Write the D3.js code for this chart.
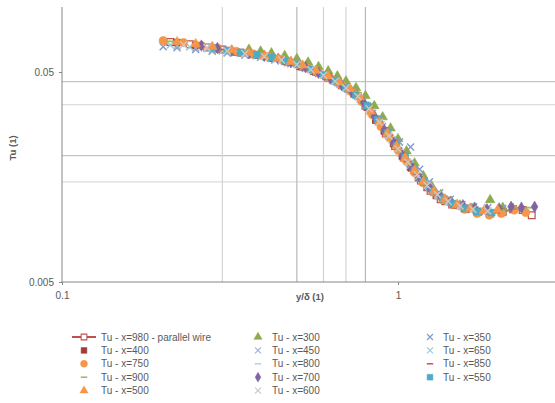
<!DOCTYPE html>
<html>
<head>
<meta charset="utf-8">
<script src="https://cdn.jsdelivr.net/npm/d3@7/dist/d3.min.js"></script>
<style>
  body { margin: 0; background: #fff; }
  svg text { font-family: "Liberation Sans", Arial, sans-serif; fill: #595959; }
</style>
</head>
<body>
<svg id="chart" width="555" height="403"></svg>
<script>
// series names, in legend order (Excel fills the legend row by row)
const seriesNames = [
  'Tu - x=980 - parallel wire', 'Tu - x=300', 'Tu - x=350',
  'Tu - x=400', 'Tu - x=450', 'Tu - x=650',
  'Tu - x=750', 'Tu - x=800', 'Tu - x=850',
  'Tu - x=900', 'Tu - x=700', 'Tu - x=550',
  'Tu - x=500', 'Tu - x=600'
];

// [y/delta, Tu] pairs
const x980 = [[0.21,0.0695],[0.24,0.0678],[0.27,0.0655],[0.30,0.0640],[0.34,0.0618],[0.38,0.0603],[0.42,0.0585],[0.47,0.0560],[0.52,0.0530],[0.57,0.0500],[0.62,0.0470],[0.68,0.0432],[0.74,0.0395],[0.80,0.0345],[0.86,0.0295],[0.92,0.0255],[0.98,0.0222],[1.04,0.0196],[1.10,0.0175],[1.17,0.0152],[1.25,0.0136],[1.34,0.0124],[1.45,0.0117],[1.58,0.0112],[1.72,0.0108],[1.88,0.0106],[2.05,0.0108],[2.20,0.0111],[2.35,0.0110],[2.50,0.0104]];
const x300 = [[0.36,0.0640],[0.39,0.0628],[0.42,0.0615],[0.46,0.0598],[0.50,0.0578],[0.54,0.0556],[0.58,0.0530],[0.62,0.0505],[0.66,0.0478],[0.70,0.0452],[0.75,0.0420],[0.80,0.0385],[0.85,0.0345],[0.90,0.0305],[0.95,0.0270],[1.00,0.0240],[1.06,0.0210],[1.12,0.0184],[1.19,0.0160],[1.26,0.0143],[1.34,0.0130],[1.43,0.0121],[1.53,0.0116],[1.66,0.0112],[1.88,0.0123],[2.05,0.0113],[2.20,0.0112]];
const x350 = [[0.20,0.0660],[0.22,0.0652],[0.25,0.0640],[0.28,0.0628],[0.31,0.0616],[0.35,0.0602],[0.39,0.0588],[0.43,0.0570],[0.48,0.0548],[0.53,0.0520],[0.58,0.0492],[0.64,0.0458],[0.70,0.0422],[0.76,0.0385],[0.82,0.0342],[0.88,0.0300],[0.94,0.0262],[1.01,0.0232],[1.09,0.0220],[1.16,0.0172],[1.24,0.0150],[1.33,0.0133],[1.43,0.0124],[1.55,0.0117],[1.68,0.0114],[1.85,0.0113],[2.05,0.0112]];
const x400 = [[0.22,0.0690],[0.25,0.0668],[0.29,0.0645],[0.33,0.0622],[0.37,0.0606],[0.42,0.0582],[0.46,0.0562],[0.51,0.0532],[0.56,0.0505],[0.61,0.0476],[0.66,0.0446],[0.71,0.0415],[0.76,0.0383],[0.81,0.0340],[0.86,0.0298],[0.91,0.0262],[0.97,0.0228],[1.03,0.0199],[1.09,0.0176],[1.15,0.0157],[1.22,0.0141],[1.30,0.0129],[1.38,0.0121],[1.48,0.0116],[1.60,0.0111],[1.74,0.0108]];
const x450 = [[0.22,0.0665],[0.25,0.0650],[0.28,0.0635],[0.31,0.0620],[0.35,0.0602],[0.39,0.0588],[0.43,0.0572],[0.47,0.0552],[0.52,0.0526],[0.57,0.0498],[0.62,0.0468],[0.67,0.0437],[0.72,0.0405],[0.78,0.0365],[0.84,0.0318],[0.90,0.0275],[0.96,0.0238],[1.02,0.0206],[1.09,0.0180],[1.16,0.0156],[1.24,0.0140],[1.33,0.0128],[1.43,0.0120],[1.55,0.0114],[1.70,0.0110],[1.85,0.0109]];
const x650 = [[0.21,0.0672],[0.24,0.0658],[0.27,0.0645],[0.30,0.0630],[0.34,0.0612],[0.38,0.0596],[0.42,0.0580],[0.46,0.0562],[0.51,0.0537],[0.56,0.0508],[0.61,0.0478],[0.66,0.0446],[0.71,0.0413],[0.77,0.0372],[0.83,0.0322],[0.89,0.0280],[0.95,0.0242],[1.01,0.0210],[1.08,0.0183],[1.15,0.0159],[1.23,0.0142],[1.32,0.0129],[1.42,0.0121],[1.54,0.0115],[1.68,0.0111],[1.80,0.0109]];
const x750 = [[0.20,0.0705],[0.23,0.0690],[0.26,0.0668],[0.29,0.0650],[0.33,0.0628],[0.37,0.0610],[0.41,0.0592],[0.45,0.0575],[0.50,0.0545],[0.54,0.0520],[0.58,0.0495],[0.63,0.0465],[0.68,0.0432],[0.73,0.0400],[0.78,0.0362],[0.84,0.0312],[0.89,0.0275],[0.94,0.0245],[1.00,0.0212],[1.06,0.0188],[1.12,0.0166],[1.19,0.0148],[1.27,0.0134],[1.36,0.0123],[1.46,0.0117],[1.58,0.0111],[1.72,0.0106],[1.87,0.0104],[2.03,0.0106],[2.22,0.0110],[2.40,0.0107]];
const x800 = [[0.25,0.0672],[0.29,0.0650],[0.33,0.0628],[0.37,0.0610],[0.42,0.0588],[0.47,0.0562],[0.52,0.0535],[0.57,0.0505],[0.62,0.0474],[0.68,0.0436],[0.74,0.0396],[0.80,0.0350],[0.86,0.0300],[0.92,0.0257],[0.98,0.0224],[1.05,0.0194],[1.12,0.0168],[1.20,0.0148],[1.29,0.0133],[1.39,0.0122],[1.51,0.0116],[1.65,0.0111],[1.82,0.0109],[2.00,0.0110]];
const x850 = [[0.22,0.0688],[0.26,0.0664],[0.30,0.0640],[0.34,0.0620],[0.39,0.0598],[0.44,0.0576],[0.49,0.0550],[0.54,0.0520],[0.59,0.0490],[0.64,0.0458],[0.70,0.0424],[0.76,0.0386],[0.82,0.0338],[0.88,0.0290],[0.94,0.0250],[1.00,0.0217],[1.07,0.0188],[1.14,0.0164],[1.22,0.0145],[1.31,0.0131],[1.41,0.0122],[1.53,0.0116],[1.67,0.0112],[1.84,0.0110],[2.02,0.0111],[2.20,0.0112]];
const x900 = [[0.21,0.0700],[0.25,0.0675],[0.29,0.0648],[0.34,0.0620],[0.39,0.0598],[0.44,0.0575],[0.49,0.0548],[0.55,0.0515],[0.61,0.0478],[0.67,0.0440],[0.73,0.0402],[0.79,0.0355],[0.85,0.0305],[0.91,0.0263],[0.97,0.0230],[1.04,0.0198],[1.11,0.0170],[1.19,0.0149],[1.28,0.0133],[1.39,0.0121],[1.52,0.0114],[1.67,0.0110],[1.84,0.0108],[2.02,0.0110],[2.22,0.0113],[2.45,0.0113]];
const x700 = [[0.26,0.0668],[0.29,0.0650],[0.32,0.0632],[0.36,0.0614],[0.40,0.0597],[0.44,0.0578],[0.48,0.0556],[0.53,0.0528],[0.58,0.0496],[0.63,0.0465],[0.68,0.0433],[0.73,0.0400],[0.79,0.0358],[0.85,0.0308],[0.91,0.0265],[0.97,0.0230],[1.03,0.0200],[1.10,0.0174],[1.17,0.0153],[1.25,0.0138],[1.34,0.0127],[1.44,0.0120],[1.56,0.0116],[1.69,0.0113],[1.84,0.0111],[2.00,0.0112],[2.17,0.0114],[2.33,0.0113],[2.55,0.0114]];
const x550 = [[0.28,0.0652],[0.31,0.0634],[0.34,0.0620],[0.38,0.0604],[0.42,0.0586],[0.46,0.0566],[0.50,0.0545],[0.55,0.0515],[0.60,0.0484],[0.65,0.0452],[0.70,0.0420],[0.75,0.0388],[0.81,0.0345],[0.87,0.0296],[0.93,0.0256],[0.99,0.0222],[1.05,0.0196],[1.12,0.0170],[1.19,0.0150],[1.27,0.0135],[1.36,0.0125],[1.46,0.0118],[1.58,0.0112],[1.72,0.0108],[1.90,0.0107]];
const x500 = [[0.22,0.0695],[0.25,0.0680],[0.28,0.0660],[0.32,0.0635],[0.36,0.0618],[0.40,0.0598],[0.44,0.0580],[0.48,0.0560],[0.52,0.0538],[0.57,0.0508],[0.62,0.0478],[0.67,0.0446],[0.72,0.0415],[0.77,0.0380],[0.83,0.0325],[0.88,0.0288],[0.93,0.0255],[0.99,0.0222],[1.05,0.0195],[1.12,0.0170],[1.19,0.0150],[1.28,0.0135],[1.38,0.0124],[1.50,0.0117],[1.64,0.0112],[1.80,0.0109],[1.98,0.0110]];
const x600 = [[0.23,0.0675],[0.27,0.0652],[0.31,0.0630],[0.35,0.0612],[0.40,0.0592],[0.45,0.0570],[0.50,0.0543],[0.55,0.0513],[0.60,0.0482],[0.65,0.0452],[0.70,0.0420],[0.76,0.0382],[0.82,0.0334],[0.88,0.0288],[0.94,0.0248],[1.00,0.0215],[1.07,0.0186],[1.14,0.0162],[1.22,0.0144],[1.31,0.0130],[1.41,0.0121],[1.53,0.0115],[1.67,0.0111],[1.85,0.0109]];

const seriesData = [x980, x300, x350, x400, x450, x650, x750, x800, x850, x900, x700, x550, x500, x600];

// axis ticks and the extra gridlines
const xTicks = [0.1, 1];
const yTicks = [0.005, 0.05];
const gridX = [0.3, 0.5, 0.6, 0.7, 0.8];
const gridY = [0.045, 0.035, 0.02, 0.015];

// marker look per series (same order as names)
const styles = [
  { shape: 'square', color: '#C0504D', open: true, line: true },
  { shape: 'triangle', color: '#8DAA4E' },
  { shape: 'x', color: '#7F9BC8' },
  { shape: 'square', color: '#A33B38' },
  { shape: 'x', color: '#9EB3CF' },
  { shape: 'x', color: '#8FCFE0' },
  { shape: 'circle', color: '#F79646' },
  { shape: 'dash', color: '#B9D0E8' },
  { shape: 'dash', color: '#D9534F' },
  { shape: 'dash', color: '#9BBB59' },
  { shape: 'diamond', color: '#8064A2' },
  { shape: 'square', color: '#4BACC6' },
  { shape: 'triangle', color: '#F79646' },
  { shape: 'x', color: '#C8C8C8' }
];

const svg = d3.select('#chart');
const plotLeft = 62, plotTop = 8.8, plotBottom = 282;

const x = d3.scaleLog().domain([0.1, 3]).range([plotLeft, plotLeft + 336 * Math.log10(30)]);
const y = d3.scaleLog().domain([0.005, 0.1]).range([plotBottom, plotTop]);

// gridlines
svg.append('g').selectAll('line')
  .data(gridY)
  .enter().append('line')
  .attr('x1', plotLeft).attr('x2', 555)
  .attr('y1', d => y(d)).attr('y2', d => y(d))
  .attr('stroke', (d, i) => i % 2 === 0 ? '#c4c4c4' : '#dcdcdc')
  .attr('stroke-width', 1.2);

svg.append('g').selectAll('line')
  .data(gridX)
  .enter().append('line')
  .attr('x1', d => x(d)).attr('x2', d => x(d))
  .attr('y1', 7).attr('y2', plotBottom)
  .attr('stroke', (d, i) => (i === 1 || i === 4) ? '#b8b8b8' : '#d4d4d4')
  .attr('stroke-width', 1.2);

// axes
const xAxis = d3.axisBottom(x).tickValues(xTicks).tickFormat(d3.format('')).tickSize(3);
const gx = svg.append('g')
  .attr('transform', 'translate(0,' + plotBottom + ')')
  .call(xAxis);
gx.select('.domain').attr('stroke', '#868686').attr('d', 'M' + plotLeft + ',0H555');
gx.selectAll('.tick line').attr('stroke', '#868686');
gx.selectAll('.tick text').attr('font-size', 10).attr('dy', '1.05em').attr('fill', '#595959');

const yAxis = d3.axisLeft(y).tickValues(yTicks).tickFormat(d3.format('')).tickSize(3);
const gy = svg.append('g')
  .attr('transform', 'translate(' + plotLeft + ',0)')
  .call(yAxis);
gy.select('.domain').attr('stroke', '#868686').attr('d', 'M0,7V' + plotBottom);
gy.selectAll('.tick line').attr('stroke', '#868686');
gy.selectAll('.tick text').attr('font-size', 10).attr('x', -8).attr('fill', '#595959');

// axis titles
svg.append('text')
  .attr('x', (plotLeft + 558) / 2).attr('y', 300)
  .attr('text-anchor', 'middle')
  .attr('font-size', 9.5).attr('font-weight', 'bold')
  .text('y/δ (1)');

svg.append('text')
  .attr('transform', 'translate(16,148) rotate(-90)')
  .attr('text-anchor', 'middle')
  .attr('font-size', 9.5).attr('font-weight', 'bold')
  .text('Tu (1)');

// draw one marker into a selection
function marker(sel, st) {
  if (st.shape === 'x') {
    sel.append('path').attr('d', 'M-3.5,-3.5L3.5,3.5M-3.5,3.5L3.5,-3.5')
      .attr('stroke', st.color).attr('stroke-width', 1.4).attr('fill', 'none');
  } else if (st.shape === 'dash') {
    sel.append('path').attr('d', 'M-3.8,0H3.8')
      .attr('stroke', st.color).attr('stroke-width', 1.8).attr('fill', 'none');
  } else {
    const types = { square: d3.symbolSquare, circle: d3.symbolCircle, triangle: d3.symbolTriangle, diamond: d3.symbolDiamond };
    const sizes = { square: 46, circle: 52, triangle: 40, diamond: 38 };
    sel.append('path').attr('d', d3.symbol().type(types[st.shape]).size(sizes[st.shape])())
      .attr('fill', st.open ? '#fff' : st.color)
      .attr('stroke', st.color).attr('stroke-width', st.open ? 1.2 : 0.6);
  }
}

// data
const plot = svg.append('g');
seriesData.forEach((data, k) => {
  const st = styles[k];
  const g = plot.append('g');
  if (st.line) {
    g.append('path').datum(data)
      .attr('fill', 'none').attr('stroke', st.color).attr('stroke-width', 2)
      .attr('d', d3.line().x(d => x(d[0])).y(d => y(d[1])));
  }
  g.selectAll('g.pt').data(data).enter().append('g')
    .attr('class', 'pt')
    .attr('transform', d => 'translate(' + x(d[0]) + ',' + y(d[1]) + ')')
    .each(function() { marker(d3.select(this), st); });
});

// legend, three columns filled row by row
const colX = [84, 258, 430];
const colText = [101, 272, 443];
const legend = svg.append('g');
seriesNames.forEach((name, i) => {
  const r = Math.floor(i / 3), c = i % 3;
  const ly = 337 + r * 13.4;
  const st = styles[i];
  if (st.line) {
    legend.append('line').attr('x1', colX[c] - 12).attr('x2', colX[c] + 12)
      .attr('y1', ly).attr('y2', ly).attr('stroke', st.color).attr('stroke-width', 2);
  }
  const m = legend.append('g').attr('transform', 'translate(' + colX[c] + ',' + ly + ') scale(0.85)');
  marker(m, st);
  legend.append('text').attr('x', colText[c]).attr('y', ly).attr('dy', '0.35em')
    .attr('font-size', 10).text(name);
});
</script>
</body>
</html>
